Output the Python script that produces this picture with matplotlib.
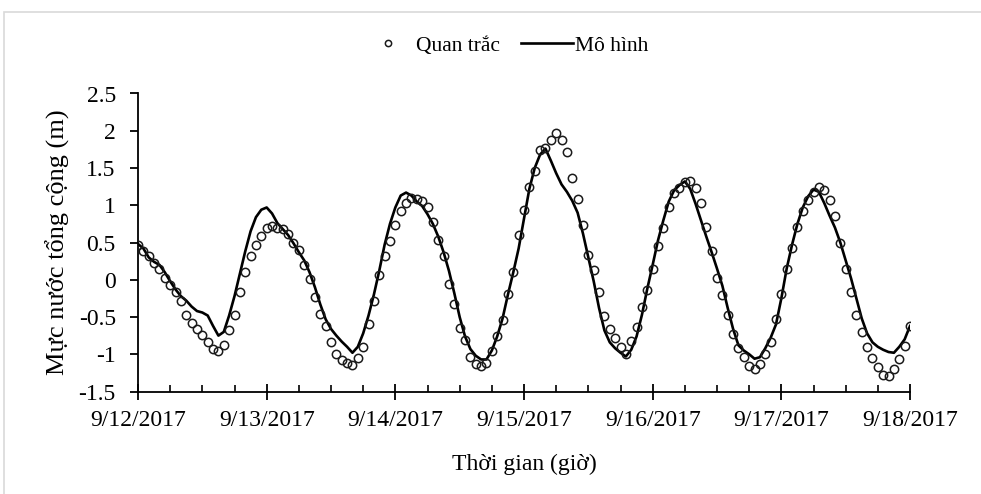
import matplotlib
matplotlib.use("Agg")
import matplotlib.pyplot as plt
import matplotlib.dates as mdates
from matplotlib.patches import Rectangle
from matplotlib.ticker import FuncFormatter, MultipleLocator
import numpy as np
import pandas as pd

plt.rcParams['font.family'] = ['Liberation Serif', 'DejaVu Serif']
plt.rcParams['axes.unicode_minus'] = False

# hourly values, 9/12/2017 00:00 -> 9/18/2017 00:00
start = "2017-09-12 00:00"
n_hours = 145

quan_trac = [
    0.46, 0.38, 0.32, 0.23, 0.14, 0.03, -0.07, -0.17, -0.29, -0.47, -0.58, -0.66,
    -0.74, -0.84, -0.93, -0.96, -0.88, -0.67, -0.47, -0.16, 0.10, 0.32, 0.47, 0.59,
    0.69, 0.72, 0.69, 0.68, 0.62, 0.50, 0.40, 0.20, 0.01, -0.23, -0.46, -0.62,
    -0.83, -0.99, -1.08, -1.12, -1.15, -1.05, -0.90, -0.60, -0.28, 0.07, 0.32, 0.52,
    0.73, 0.92, 1.03, 1.10, 1.08, 1.06, 0.98, 0.78, 0.54, 0.32, -0.06, -0.32,
    -0.65, -0.81, -1.04, -1.13, -1.16, -1.12, -0.96, -0.75, -0.54, -0.19, 0.10, 0.60,
    0.94, 1.24, 1.46, 1.74, 1.77, 1.88, 1.97, 1.87, 1.72, 1.37, 1.08, 0.73,
    0.33, 0.13, -0.16, -0.49, -0.66, -0.78, -0.90, -0.99, -0.82, -0.63, -0.37, -0.14,
    0.14, 0.45, 0.70, 0.98, 1.16, 1.23, 1.31, 1.32, 1.23, 1.03, 0.71, 0.38,
    0.03, -0.21, -0.47, -0.73, -0.91, -1.04, -1.16, -1.20, -1.13, -0.99, -0.83, -0.53,
    -0.19, 0.15, 0.42, 0.71, 0.92, 1.07, 1.18, 1.25, 1.21, 1.07, 0.85, 0.50,
    0.15, -0.16, -0.47, -0.70, -0.90, -1.05, -1.17, -1.28, -1.29, -1.20, -1.07, -0.89,
    -0.62,
]

mo_hinh = [
    0.48, 0.42, 0.30, 0.24, 0.20, 0.10, -0.02, -0.13, -0.22, -0.28, -0.36, -0.42,
    -0.44, -0.48, -0.62, -0.75, -0.70, -0.48, -0.22, 0.08, 0.38, 0.65, 0.84, 0.94,
    0.97, 0.89, 0.76, 0.68, 0.60, 0.49, 0.37, 0.26, 0.10, -0.10, -0.33, -0.53,
    -0.66, -0.75, -0.83, -0.90, -0.98, -0.90, -0.72, -0.48, -0.20, 0.12, 0.47, 0.75,
    0.97, 1.13, 1.17, 1.13, 1.05, 0.99, 0.88, 0.75, 0.58, 0.37, 0.12, -0.18,
    -0.50, -0.76, -0.93, -1.02, -1.07, -1.07, -0.95, -0.76, -0.52, -0.20, 0.10, 0.42,
    0.82, 1.22, 1.50, 1.68, 1.76, 1.60, 1.43, 1.28, 1.18, 1.06, 0.90, 0.62,
    0.30, -0.02, -0.38, -0.68, -0.84, -0.92, -0.98, -1.03, -0.94, -0.76, -0.47, -0.12,
    0.20, 0.53, 0.80, 1.05, 1.20, 1.27, 1.32, 1.22, 1.02, 0.80, 0.58, 0.37,
    0.15, -0.08, -0.38, -0.66, -0.88, -0.95, -1.00, -1.06, -1.04, -0.92, -0.78, -0.60,
    -0.25, 0.15, 0.47, 0.75, 0.97, 1.12, 1.21, 1.18, 1.03, 0.86, 0.70, 0.50,
    0.26, 0.02, -0.25, -0.52, -0.72, -0.84, -0.90, -0.94, -0.97, -0.98, -0.90, -0.80,
    -0.62,
]

time = pd.date_range(start, periods=n_hours, freq="h")

fig = plt.figure(figsize=(9.81, 4.94), dpi=100)
ax = fig.add_axes([138 / 981, 1 - 391.5 / 494, (910 - 138) / 981, (391.5 - 93.5) / 494])

# light grey frame of the chart area (cut at right and bottom)
fig.patches.append(Rectangle((4 / 981, -0.2), 1.2, 1.2 - 12 / 494,
                             transform=fig.transFigure, fill=False,
                             edgecolor="#d9d9d9", linewidth=1.2))

ax.plot(time, quan_trac, linestyle="none", marker="o", markersize=6,
        markerfacecolor="none", markeredgecolor="#1a1a1a", markeredgewidth=1.1,
        label="Quan trắc", zorder=3)
ax.plot(time, mo_hinh, color="black", linewidth=1.9, label="Mô hình", zorder=2)

ax.set_xlim(pd.Timestamp("2017-09-12"), pd.Timestamp("2017-09-18"))
ax.set_ylim(-1.5, 2.5)

ax.xaxis.set_major_locator(mdates.DayLocator())
ax.xaxis.set_minor_locator(mdates.HourLocator(byhour=[6, 12, 18]))
ax.xaxis.set_major_formatter(FuncFormatter(
    lambda v, pos: "{d.month}/{d.day}/{d.year}".format(d=mdates.num2date(v))))
ax.yaxis.set_major_locator(MultipleLocator(0.5))
ax.yaxis.set_major_formatter(FuncFormatter(lambda v, pos: "%g" % v))

for side in ["top", "right"]:
    ax.spines[side].set_visible(False)
for side in ["left", "bottom"]:
    ax.spines[side].set_linewidth(1.3)

ax.tick_params(axis="x", which="major", direction="inout", length=11, width=1.3,
               labelsize=17, pad=8)
ax.tick_params(axis="x", which="minor", direction="in", length=5, width=1.2)
ax.tick_params(axis="y", which="major", direction="out", length=6, width=1.3,
               labelsize=17, pad=10)

ax.set_xlabel("Thời gian (giờ)", fontsize=17, labelpad=16)
ax.set_ylabel("Mực nước tổng cộng (m)", fontsize=19, labelpad=6)

fig.legend(loc="center", bbox_to_anchor=(0.515, 1 - 46 / 494), ncol=2, frameon=False,
           fontsize=15.5, handlelength=2.4, handletextpad=0.1, columnspacing=1.0,
           markerscale=0.75)

fig.savefig("out.png", dpi=100)
